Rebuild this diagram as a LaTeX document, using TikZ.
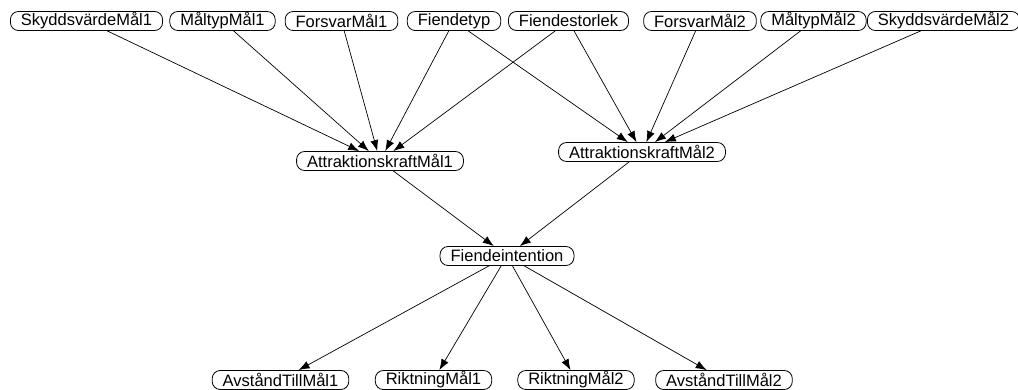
\documentclass[tikz,border=0pt]{standalone}
\usepackage{fontspec}
\setmainfont{Liberation Sans}
\usetikzlibrary{arrows.meta}
\begin{document}
\begin{tikzpicture}[x=1pt,y=-1pt,
  var/.style={draw=black,line width=0.8pt,rounded corners=8pt,fill=white,
    inner xsep=10.5pt,inner ysep=0pt,minimum height=19pt,
    font=\fontsize{16.5}{18}\selectfont},
  link/.style={draw=black,line width=0.7pt,
    -{Latex[length=11pt,width=8pt]}}]
\useasboundingbox (0,0) rectangle (1018,389);
% input variables
\node[var] (skydd1) at (86.5,21) {SkyddsvärdeMål1};
\node[var] (maltyp1) at (222.5,21) {MåltypMål1};
\node[var] (forsvar1) at (341.5,21) {ForsvarMål1};
\node[var] (ftyp) at (454,21) {Fiendetyp};
\node[var] (fstorlek) at (568.5,21) {Fiendestorlek};
\node[var] (forsvar2) at (700,21) {ForsvarMål2};
\node[var] (maltyp2) at (813.5,21) {MåltypMål2};
\node[var] (skydd2) at (943.5,21) {SkyddsvärdeMål2};
% attraction of each target
\node[var] (attr1) at (380,161) {AttraktionskraftMål1};
\node[var] (attr2) at (642,152) {AttraktionskraftMål2};
% enemy intention
\node[var] (intent) at (507,256) {Fiendeintention};
% outputs
\node[var] (avst1) at (280.5,380) {AvståndTillMål1};
\node[var] (rikt1) at (433.5,380) {RiktningMål1};
\node[var] (rikt2) at (576,380) {RiktningMål2};
\node[var] (avst2) at (724,380) {AvståndTillMål2};
% dependencies
\foreach \s in {skydd1,maltyp1,forsvar1,ftyp,fstorlek}
  \draw[link] (\s) -- (attr1);
\foreach \s in {ftyp,fstorlek,forsvar2,maltyp2,skydd2}
  \draw[link] (\s) -- (attr2);
\draw[link] (attr1) -- (intent);
\draw[link] (attr2) -- (intent);
\foreach \t in {avst1,rikt1,rikt2,avst2}
  \draw[link] (intent) -- (\t);
\end{tikzpicture}
\end{document}
